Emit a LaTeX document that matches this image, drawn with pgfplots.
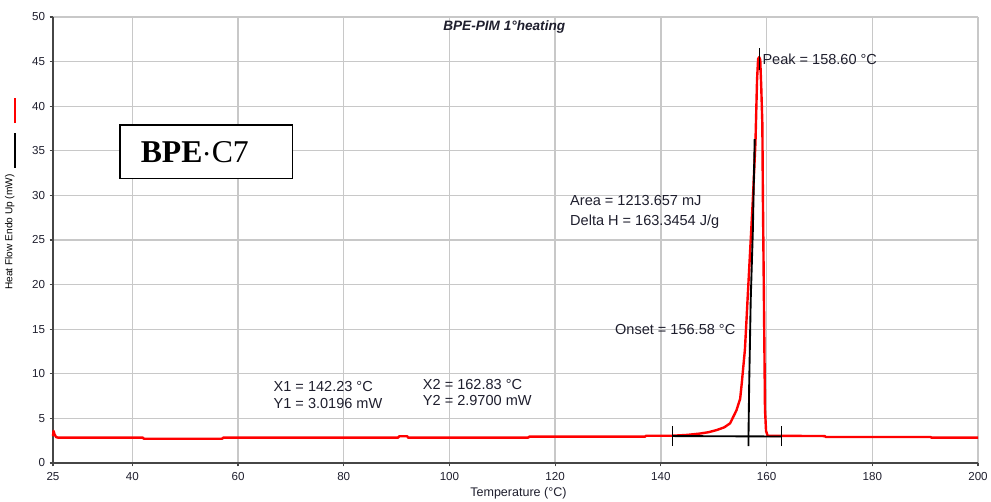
\documentclass[border=0pt]{standalone}
\usepackage{fontspec}
\setmainfont{Liberation Sans}
\newfontfamily\timesfont{Liberation Serif}
\usepackage{pgfplots}
\pgfplotsset{compat=1.18}
\definecolor{gridgray}{RGB}{200,200,200}
\definecolor{axisgray}{RGB}{70,70,70}
\definecolor{txt}{RGB}{30,30,45}
\begin{document}
\begin{tikzpicture}
\begin{axis}[
  name=ax,
  scale only axis,
  width=693.75pt, height=334.5pt,
  xmin=25, xmax=200, ymin=0, ymax=50,
  xtick={25,40,60,80,100,120,140,160,180,200},
  ytick={0,5,10,15,20,25,30,35,40,45,50},
  axis x line*=bottom, axis y line*=left,
  axis line style={axisgray, line width=0.9pt, -},
  grid=major,
  major grid style={gridgray, line width=1pt},
  tick align=outside, major tick length=2.5pt,
  tick style={axisgray, line width=0.8pt},
  /pgf/number format/assume math mode=true,
  ticklabel style={font=\fontsize{8.7}{10}\selectfont, text=txt},
  xticklabel style={yshift=-1pt},
  clip=false,
]
% DSC curve
\addplot[red, line width=1.8pt, line join=round] coordinates {
(25.0,3.0) (25.1,3.6) (25.3,3.2) (25.6,2.9) (26.0,2.84) (42.0,2.84) (42.2,2.72)
(57.0,2.72) (57.2,2.84) (90.3,2.84) (90.5,3.0) (92.0,3.0) (92.2,2.84)
(114.9,2.84) (115.1,2.95) (137.0,2.95) (137.2,3.05) (142.3,3.06) (145.0,3.15)
(147.4,3.3) (149.0,3.45) (150.6,3.7) (152.0,4.0) (153.1,4.45) (154.3,5.9)
(155.0,7.2) (155.3,8.9) (155.9,12.7) (156.2,16.0) (156.4,18.3) (156.9,23.9)
(157.4,29.5) (157.9,36.0) (158.2,43.0) (158.4,45.3) (158.6,45.5) (158.8,45.2)
(159.0,42.0) (159.2,38.0) (159.3,30.0) (159.5,18.3) (159.7,6.0) (159.9,3.6)
(160.2,3.05) (171.0,3.02) (171.2,2.92) (191.0,2.92) (191.2,2.84) (200.0,2.84)
};
% baseline between X1 and X2
\addplot[black, line width=1.4pt] coordinates {(142.23,3.02) (162.83,2.97)};
\addplot[black, line width=1pt] coordinates {(142.23,1.9) (142.23,4.2)};
\addplot[black, line width=1pt] coordinates {(162.83,1.9) (162.83,4.2)};
% onset tangent
\addplot[black, line width=1.4pt] coordinates {(156.58,1.9) (156.58,3.0) (156.7,8.5) (157.0,18.3) (157.4,26) (157.75,36.3)};
% peak marker
\addplot[black, line width=1pt] coordinates {(158.6,44.1) (158.6,46.5)};

\node[anchor=base west, inner sep=0, text=txt, font=\fontsize{10.2}{12}\selectfont\bfseries\itshape] at (axis cs:98.8,48.46) {BPE-PIM 1°heating};
\begin{scope}[every node/.style={anchor=base west, inner sep=0, text=txt, font=\fontsize{10.9}{13}\selectfont}]
\node at (axis cs:159.18,44.7) {Peak = 158.60 °C};
\node at (axis cs:122.8,28.92) {Area = 1213.657 mJ};
\node at (axis cs:122.8,26.68) {Delta H = 163.3454 J/g};
\node at (axis cs:131.3,14.43) {Onset = 156.58 °C};
\node at (axis cs:66.7,8.0) {X1 = 142.23 °C};
\node at (axis cs:66.7,6.13) {Y1 = 3.0196 mW};
\node at (axis cs:94.94,8.26) {X2 = 162.83 °C};
\node at (axis cs:94.94,6.39) {Y2 = 2.9700 mW};
\end{scope}
\node[anchor=base west, inner sep=0, text=txt, font=\fontsize{9.4}{11}\selectfont] at (axis cs:103.9,-3.78) {Temperature (°C)};
\node[rotate=90, anchor=base, inner sep=0, text=black, font=\fontsize{7.6}{9}\selectfont] at (axis cs:17.3,25.9) {Heat Flow Endo Up (mW)};
\draw[red, line width=1.6pt] (axis cs:17.81,38.1) -- (axis cs:17.81,40.9);
\draw[black, line width=1pt] (axis cs:17.81,33.1) -- (axis cs:17.81,37.0);

\node[draw, line width=1.2pt, fill=white, anchor=west, inner xsep=15.75pt, text width=98pt, align=left, minimum height=40pt, font=\timesfont\fontsize{23.8}{26}\selectfont] at (axis cs:37.49,34.9) {\textbf{BPE}$\cdot$C7};
\end{axis}
\pgfresetboundingbox
\path ([xshift=-39.75pt,yshift=-29.25pt]ax.south west) rectangle ([xshift=9.75pt,yshift=12.75pt]ax.north east);
\end{tikzpicture}
\end{document}
